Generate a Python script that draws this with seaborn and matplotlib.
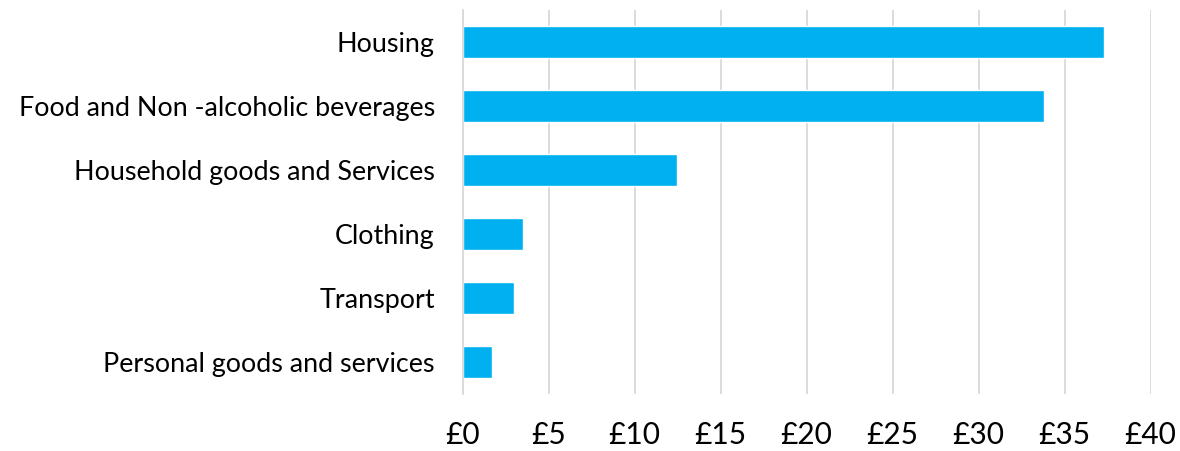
import matplotlib
matplotlib.use("Agg")
import matplotlib.pyplot as plt
import seaborn as sns
import pandas as pd

categories = [
    "Housing",
    "Food and Non -alcoholic beverages",
    "Household goods and Services",
    "Clothing",
    "Transport",
    "Personal goods and services",
]
values = [37.3, 33.8, 12.45, 3.5, 3.0, 1.7]
x_ticks = [0, 5, 10, 15, 20, 25, 30, 35, 40]
x_tick_labels = [f"£{v}" for v in x_ticks]

df = pd.DataFrame({"category": categories, "value": values})

sns.set_style("white")
plt.rcParams["font.family"] = ["Lato", "DejaVu Sans"]

fig = plt.figure(figsize=(11.8, 4.51), dpi=100)
ax = fig.add_axes([0.392, 0.126, 0.583, 0.852])

sns.barplot(data=df, x="value", y="category", color="#00B0F0",
            saturation=1, width=0.5, ax=ax)

ax.set_xlim(0, 40)
ax.set_xticks(x_ticks)
ax.set_xticklabels(x_tick_labels, fontsize=21.5, color="black")
ax.tick_params(axis="x", length=0, pad=19)
ax.tick_params(axis="y", length=0, pad=20, labelsize=19.4, labelcolor="black")
ax.grid(axis="x", color="#D9D9D9", linewidth=1.3)
ax.set_axisbelow(True)
for side in ["top", "right", "bottom"]:
    ax.spines[side].set_visible(False)
ax.spines["left"].set_color("#D9D9D9")
ax.spines["left"].set_linewidth(1.3)
ax.set_xlabel("")
ax.set_ylabel("")

fig.savefig("out.png", dpi=100)
